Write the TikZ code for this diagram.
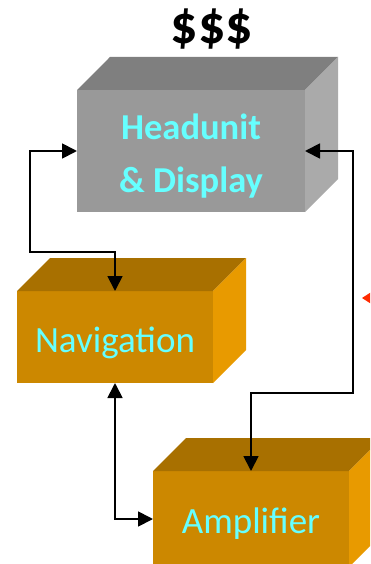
\documentclass[tikz,border=0pt]{standalone}
\usepackage{fontspec}
\setmainfont{Carlito}
\usetikzlibrary{calc,arrows.meta}
\definecolor{grayfront}{HTML}{999999}
\definecolor{graytop}{HTML}{7F7F7F}
\definecolor{grayside}{HTML}{AAAAAA}
\definecolor{orfront}{HTML}{CC8800}
\definecolor{ortop}{HTML}{A87000}
\definecolor{orside}{HTML}{E89A00}
\definecolor{labelcyan}{HTML}{66FFFF}
\definecolor{markred}{HTML}{FF2A00}
\tikzset{
  face/.style={inner sep=0pt, outer sep=0pt},
  lbl/.style={text=labelcyan, anchor=base, inner sep=0pt, font=\fontsize{37}{44}\selectfont},
  lblbold/.style={lbl, font=\fontsize{36.5}{44}\selectfont\bfseries},
  link/.style={line width=1.8pt, {Triangle[length=15pt,width=15pt]}-{Triangle[length=15pt,width=15pt]}},
}
% a block drawn as a cuboid: front face node plus top and side faces
\newcommand\cuboidfaces[3]{%
  \fill[#2] (#1.north west) -- ++(33,-33) -- ($(#1.north east)+(33,-33)$) -- (#1.north east) -- cycle;
  \fill[#3] (#1.north east) -- ++(33,-33) -- ($(#1.south east)+(33,-33)$) -- (#1.south east) -- cycle;
}
\begin{document}
\begin{tikzpicture}[x=1pt,y=-1pt]
  \useasboundingbox (0,0) rectangle (370,564);
  \clip (0,0) rectangle (370,564);

  % front faces
  \node[face, fill=grayfront, minimum width=228pt, minimum height=122pt] (hu) at (191,151) {};
  \node[face, fill=orfront, minimum width=196pt, minimum height=92pt] (nav) at (115,337) {};
  \node[face, fill=orfront, minimum width=196pt, minimum height=96pt] (amp) at (251,519) {};

  % top and side faces
  \cuboidfaces{hu}{graytop}{grayside}
  \cuboidfaces{nav}{ortop}{orside}
  \cuboidfaces{amp}{ortop}{orside}

  % labels
  \node[anchor=base, inner sep=0pt, font=\fontsize{54}{60}\selectfont\bfseries] (cost) at (212,44) {\$\$\$};
  \node[lblbold] (hut1) at (191,140) {Headunit};
  \node[lblbold] (hut2) at (191,192) {\& Display};
  \node[lbl] (navt) at (115,352) {Navigation};
  \node[lbl] (ampt) at (251,533) {Amplifier};

  % connectors
  \coordinate (c1) at (30,252);
  \coordinate (c2) at (353,393);
  \draw[link] (hu.west) -| (c1) -| (nav.north);
  \draw[link] (nav.south) |- (amp.west);
  \draw[link] (hu.east) -| (c2) -| (amp.north);

  % red marker at the right edge
  \fill[markred] (362,298) -- (376,289) -- (376,307) -- cycle;
\end{tikzpicture}
\end{document}
